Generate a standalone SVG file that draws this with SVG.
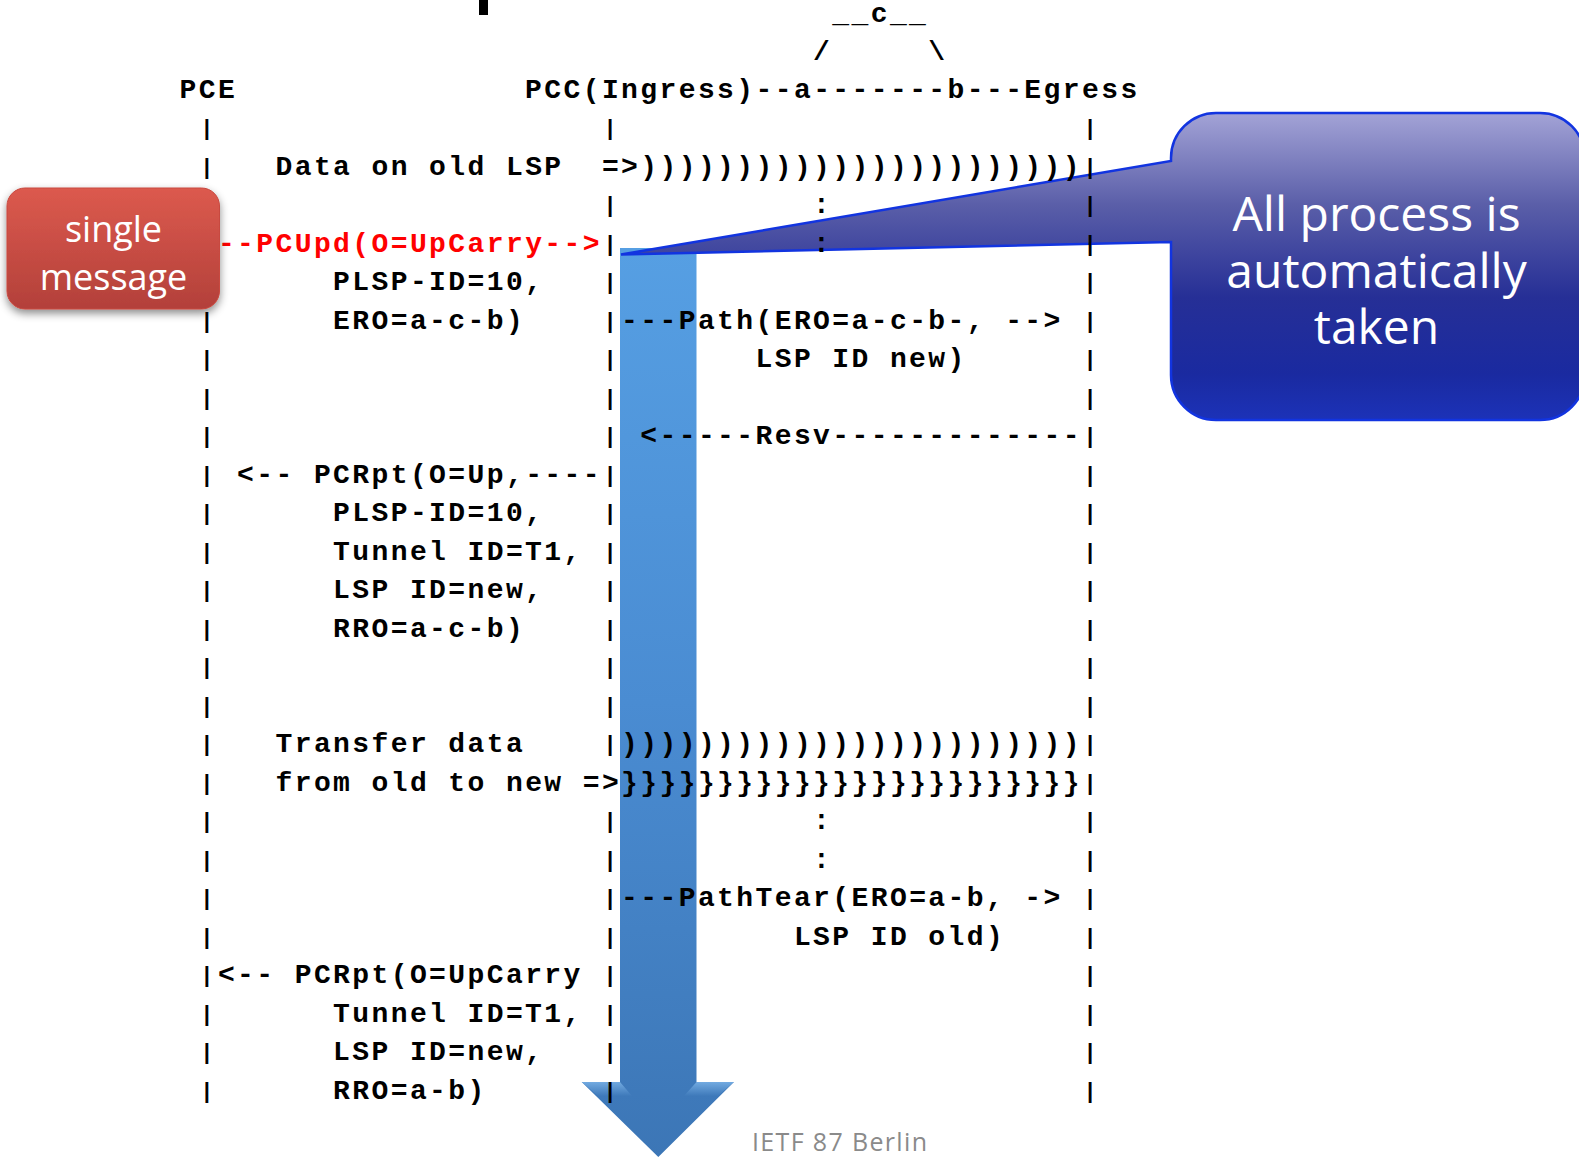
<svg xmlns="http://www.w3.org/2000/svg" width="1579" height="1157" viewBox="0 0 1579 1157">
<defs>
<style>
.t{font-family:"Liberation Mono","DejaVu Sans Mono",monospace;font-weight:bold;font-size:28px;letter-spacing:2.4px;fill:#000}
.p{font-family:"Liberation Mono","DejaVu Sans Mono",monospace;font-weight:bold;font-size:22px;fill:#000;text-anchor:middle}
.red{fill:#ff0000}
.w{font-family:"Open Sans","Noto Sans",sans-serif;fill:#fff;text-anchor:middle}
</style>
<linearGradient id="calloutGrad" gradientUnits="userSpaceOnUse" x1="0" y1="113" x2="0" y2="420">
<stop offset="0" stop-color="#a3a3d6"/>
<stop offset="0.3" stop-color="#5a5ea8"/>
<stop offset="0.6" stop-color="#262f96"/>
<stop offset="0.85" stop-color="#1a2aa0"/>
<stop offset="1" stop-color="#1c32b8"/>
</linearGradient>
<linearGradient id="redGrad" x1="0" y1="0" x2="0" y2="1">
<stop offset="0" stop-color="#dc5a4e"/>
<stop offset="1" stop-color="#b3403a"/>
</linearGradient>
<linearGradient id="arrowGrad" gradientUnits="userSpaceOnUse" x1="0" y1="248" x2="0" y2="1157">
<stop offset="0" stop-color="#569fe3"/>
<stop offset="0.5" stop-color="#4a8cd2"/>
<stop offset="1" stop-color="#3c76b6"/>
</linearGradient>
<linearGradient id="wingGrad" x1="0" y1="0" x2="0" y2="1">
<stop offset="0" stop-color="#7fb6ea" stop-opacity="0.8"/>
<stop offset="1" stop-color="#7fb6ea" stop-opacity="0"/>
</linearGradient>
<filter id="shadow" x="-10%" y="-10%" width="120%" height="130%">
<feDropShadow dx="0" dy="4" stdDeviation="4" flood-color="#000" flood-opacity="0.45"/>
</filter>
</defs>
<rect width="1579" height="1157" fill="#fff"/>
<rect x="479" y="0" width="9" height="15" fill="#000"/>

<g id="flow-arrow">
<path d="M620,248 H696.5 V1082 H734 L658.3,1157 L581.7,1082 H620 Z" fill="url(#arrowGrad)"/>
<path d="M581.7,1082 H620 L632,1096 H598 Z" fill="url(#wingGrad)"/>
<path d="M734,1082 H696.5 L684,1096 H718 Z" fill="url(#wingGrad)"/>
</g>

<g id="callout">
<path d="M1216,113 H1540 A45,45 0 0 1 1585,158 V375 A45,45 0 0 1 1540,420 H1216 A45,45 0 0 1 1171,375 V242 L621,254.5 L1171,161 V158 A45,45 0 0 1 1216,113 Z" fill="url(#calloutGrad)" stroke="#1234e0" stroke-width="2.5"/>
</g>

<g id="header">
<text class="t" x="832.3" y="22">__c__</text>
<text class="t" x="813.1" y="59.5">/</text>
<text class="t" x="928.3" y="59.5">\</text>
<text class="t" x="179.5" y="97.5">PCE</text>
<text class="t" x="525.1" y="97.5">PCC(Ingress)--a-------b---Egress</text>
</g>

<g id="pce-lifeline">
<text class="p" x="206.8 206.8 206.8 206.8 206.8 206.8 206.8 206.8 206.8 206.8 206.8 206.8 206.8 206.8 206.8 206.8 206.8 206.8 206.8 206.8 206.8 206.8 206.8" y="135 173.5 327.5 366 404.5 443 481.5 520 558.5 597 635.5 674 712.5 751 789.5 828 866.5 905 943.5 982 1020.5 1059 1097.5">|||||||||||||||||||||||</text>
</g>
<g id="pcc-lifeline">
<text class="p" x="610 610 610 610 610 610 610 610 610 610 610 610 610 610 610 610 610 610 610 610 610 610 610 610" y="135 212 250.5 289 327.5 366 404.5 443 481.5 520 558.5 597 635.5 674 712.5 751 828 866.5 905 943.5 982 1020.5 1059 1097.5">||||||||||||||||||||||||</text>
</g>
<g id="egress-lifeline">
<text class="p" x="1090 1090 1090 1090 1090 1090 1090 1090 1090 1090 1090 1090 1090 1090 1090 1090 1090 1090 1090 1090 1090 1090 1090 1090 1090 1090" y="135 173.5 212 250.5 289 327.5 366 404.5 443 481.5 520 558.5 597 635.5 674 712.5 751 789.5 828 866.5 905 943.5 982 1020.5 1059 1097.5">||||||||||||||||||||||||||</text>
</g>

<g id="connectors">
<text class="t" x="275.5" y="174.5">Data on old LSP</text>
<text class="t" x="601.9" y="174.5">=>)))))))))))))))))))))))</text>
<text class="t" x="813.1" y="213">:</text>
<text class="t red" x="217.9" y="251.5">--PCUpd(O=UpCarry--></text>
<text class="t" x="813.1" y="251.5">:</text>
<text class="t" x="333.1" y="290">PLSP-ID=10,</text>
<text class="t" x="333.1" y="328.5">ERO=a-c-b)</text>
<text class="t" x="621.1" y="328.5">---Path(ERO=a-c-b-, --></text>
<text class="t" x="755.5" y="367">LSP ID new)</text>
<text class="t" x="640.3" y="444">&lt;-----Resv-------------</text>
<text class="t" x="237.1" y="482.5">&lt;-- PCRpt(O=Up,----</text>
<text class="t" x="333.1" y="521">PLSP-ID=10,</text>
<text class="t" x="333.1" y="559.5">Tunnel ID=T1,</text>
<text class="t" x="333.1" y="598">LSP ID=new,</text>
<text class="t" x="333.1" y="636.5">RRO=a-c-b)</text>
<text class="t" x="275.5" y="752">Transfer data</text>
<text class="t" x="621.1" y="752">))))))))))))))))))))))))</text>
<text class="t" x="275.5" y="790.5">from old to new =></text>
<text class="t" x="621.1" y="790.5">}}}}}}}}}}}}}}}}}}}}}}}}</text>
<text class="t" x="813.1" y="829">:</text>
<text class="t" x="813.1" y="867.5">:</text>
<text class="t" x="621.1" y="906">---PathTear(ERO=a-b, -></text>
<text class="t" x="793.9" y="944.5">LSP ID old)</text>
<text class="t" x="217.9" y="983">&lt;-- PCRpt(O=UpCarry</text>
<text class="t" x="333.1" y="1021.5">Tunnel ID=T1,</text>
<text class="t" x="333.1" y="1060">LSP ID=new,</text>
<text class="t" x="333.1" y="1098.5">RRO=a-b)</text>
</g>

<g id="callout-text">
<text class="w" x="1376.5" y="231" font-size="48">All process is</text>
<text class="w" x="1376.5" y="287.5" font-size="48">automatically</text>
<text class="w" x="1376.5" y="344" font-size="48">taken</text>
</g>

<g id="single-message">
<rect x="7" y="188" width="212.5" height="121" rx="18" fill="url(#redGrad)" stroke="#c8483f" stroke-width="1" filter="url(#shadow)"/>
<text class="w" x="113.5" y="241.5" font-size="36">single</text>
<text class="w" x="113.5" y="290" font-size="36">message</text>
</g>

<g id="footer">
<text x="752" y="1151" font-family="'Open Sans','Noto Sans',sans-serif" font-size="25" fill="#8a8a8a" textLength="175" lengthAdjust="spacing">IETF 87 Berlin</text>
</g>
</svg>
